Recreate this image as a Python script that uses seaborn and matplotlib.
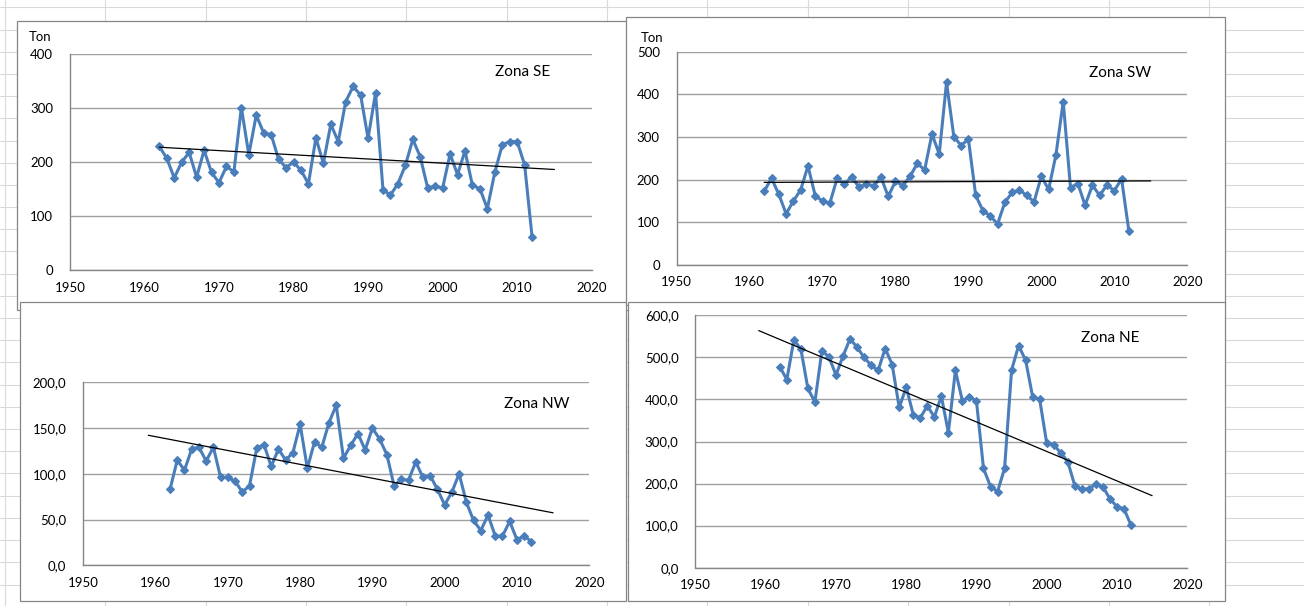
import numpy as np
import matplotlib
matplotlib.use("Agg")
import matplotlib.pyplot as plt
import seaborn as sns
from matplotlib.patches import Rectangle
from matplotlib.lines import Line2D
from matplotlib.ticker import MultipleLocator, FuncFormatter

sns.set_style("white")
plt.rcParams["font.family"] = ["Lato", "DejaVu Sans"]

# ---- data -------------------------------------------------------------
years = list(range(1962, 2013))

zona_se = [229, 207, 171, 200, 218, 172, 222, 181, 162, 192,
           182, 301, 214, 287, 254, 251, 205, 190, 200, 185,
           160, 245, 198, 270, 238, 312, 340, 324, 244, 328,
           149, 139, 160, 194, 242, 210, 152, 156, 152, 215,
           177, 221, 157, 151, 114, 181, 232, 238, 238, 195,
           62]

zona_sw = [173, 203, 166, 120, 150, 176, 232, 162, 150, 145,
           203, 190, 207, 182, 191, 185, 206, 161, 196, 186,
           208, 238, 223, 307, 260, 428, 301, 280, 295, 163,
           127, 115, 96, 147, 170, 176, 163, 148, 208, 177,
           258, 383, 181, 191, 140, 187, 163, 188, 174, 202,
           80]

zona_nw = [83, 115, 104, 127, 129, 114, 129, 96, 96, 92,
           80, 87, 128, 132, 108, 127, 115, 123, 154, 106,
           135, 129, 156, 175, 117, 131, 144, 126, 150, 138,
           121, 87, 94, 93, 113, 96, 98, 83, 66, 80,
           100, 69, 49, 38, 55, 32, 32, 48, 28, 32,
           26]

zona_ne = [478, 447, 541, 520, 426, 394, 516, 501, 458, 503,
           544, 524, 500, 481, 469, 521, 483, 381, 429, 364,
           356, 385, 358, 408, 321, 469, 396, 406, 396, 236,
           193, 181, 236, 470, 528, 493, 406, 400, 296, 292,
           273, 252, 195, 186, 188, 198, 192, 164, 145, 140,
           101]

x_ticks = [1950, 1960, 1970, 1980, 1990, 2000, 2010, 2020]

# ---- layout (pixels) ----------------------------------------------------
W, H = 1304, 606
fig = plt.figure(figsize=(W / 100, H / 100), dpi=100)
fig.patch.set_facecolor("white")

def fx(px):
    return px / W

def fy(py):
    return 1 - py / H

# spreadsheet cell grid behind the charts
grid_col = "#d9d9d9"
x = 5.0
while x < W:
    fig.add_artist(Line2D([fx(x), fx(x)], [0, 1], color=grid_col, lw=0.8, zorder=0))
    x += 100.35
y = 7.3
while y < H:
    fig.add_artist(Line2D([0, 1], [fy(y), fy(y)], color=grid_col, lw=0.8, zorder=0))
    y += 22.2

line_col = "#4a7ebb"
axis_col = "#868686"

panels = [
    dict(name="Zona SE", data=zona_se, box=(17, 21, 645, 310), plot=(69.9, 591.7, 54.0, 270.3),
         ymax=400, ystep=100, yminor=10, fmt="{:.0f}", trend_from=1962,
         title_xy=(523, 72), ton_xy=(40, 37)),
    dict(name="Zona NW", data=zona_nw, box=(20, 302, 626, 601), plot=(83.3, 589.2, 382.3, 565.3),
         ymax=200, ystep=50, yminor=5, fmt="{:.1f}", trend_from=1959,
         title_xy=(537, 404), ton_xy=None),
    dict(name="Zona SW", data=zona_sw, box=(626, 17, 1225, 305), plot=(676.7, 1187.2, 51.7, 265.0),
         ymax=500, ystep=100, yminor=20, fmt="{:.0f}", trend_from=1962,
         title_xy=(1120, 73), ton_xy=(652, 38)),
    dict(name="Zona NE", data=zona_ne, box=(628, 302, 1225, 601), plot=(695.5, 1187.2, 315.3, 567.7),
         ymax=600, ystep=100, yminor=None, fmt="{:.1f}", trend_from=1959,
         title_xy=(1110, 338), ton_xy=None),
]

for i, p in enumerate(panels):
    z = 1 + 2 * i
    bx0, by0, bx1, by1 = p["box"]
    fig.add_artist(Rectangle((fx(bx0), fy(by1)), fx(bx1 - bx0), (by1 - by0) / H,
                             facecolor="white", edgecolor=axis_col, lw=0.9, zorder=z))

    x0, x1, yt, yb = p["plot"]
    ax = fig.add_axes([fx(x0), fy(yb), fx(x1 - x0), (yb - yt) / H])
    ax.set_zorder(z + 1)
    ax.patch.set_alpha(0)

    yrs = np.array(years)
    vals = np.array(p["data"], dtype=float)

    # linear trend line, extended to 2015
    slope, intercept = np.polyfit(yrs, vals, 1)
    tx = np.array([p["trend_from"], 2015])
    ax.plot(tx, slope * tx + intercept, color="black", lw=0.9, zorder=4)

    sns.lineplot(x=yrs, y=vals, ax=ax, color=line_col, lw=2.2, marker="D",
                 markersize=4.5, markeredgecolor=line_col, markeredgewidth=0.8, zorder=3)

    ax.set_xlim(1950, 2020)
    ax.set_ylim(0, p["ymax"])
    ax.set_xticks(x_ticks)
    ax.xaxis.set_minor_locator(MultipleLocator(2))
    ax.yaxis.set_major_locator(MultipleLocator(p["ystep"]))
    if p["yminor"]:
        ax.yaxis.set_minor_locator(MultipleLocator(p["yminor"]))
    fmt = p["fmt"]
    ax.yaxis.set_major_formatter(FuncFormatter(lambda v, _, f=fmt: f.format(v).replace(".", ",")))

    ax.grid(axis="y", color="#a0a0a0", lw=1.0)
    ax.grid(axis="x", visible=False)
    ax.set_axisbelow(True)
    for s in ("top", "right"):
        ax.spines[s].set_visible(False)
    for s in ("left", "bottom"):
        ax.spines[s].set_color(axis_col)
        ax.spines[s].set_linewidth(1.0)

    ax.tick_params(axis="both", which="both", direction="out", color=axis_col,
                   labelsize=9.5, labelcolor="black")
    ax.tick_params(axis="both", which="major", length=3.2, width=0.8)
    ax.tick_params(axis="both", which="minor", length=2.6, width=0.6)
    ax.tick_params(axis="y", which="major", pad=9)
    ax.tick_params(axis="x", which="major", pad=5)
    ax.set_xlabel("")
    ax.set_ylabel("")

    tx_, ty_ = p["title_xy"]
    fig.text(fx(tx_), fy(ty_), p["name"], ha="center", va="center", fontsize=11,
             color="black", zorder=z + 1)
    if p["ton_xy"]:
        ox, oy = p["ton_xy"]
        fig.text(fx(ox), fy(oy), "Ton", ha="center", va="center", fontsize=9.5,
                 color="black", zorder=z + 1)

fig.savefig("out.png", dpi=100)
